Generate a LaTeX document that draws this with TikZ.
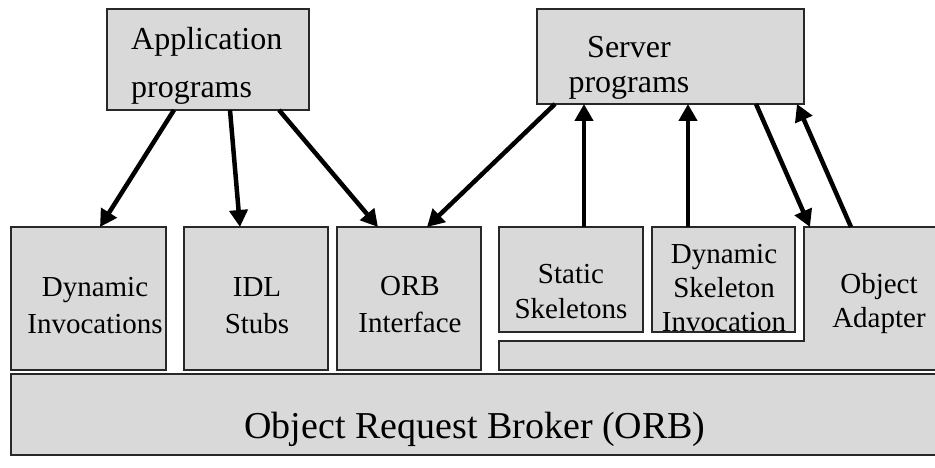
\documentclass[tikz,border=0pt]{standalone}
\usepackage{fontspec}
\setmainfont{Liberation Serif}
\usetikzlibrary{arrows.meta}
\definecolor{boxgray}{RGB}{217,217,217}
\definecolor{edge}{RGB}{40,40,40}
\begin{document}
\begin{tikzpicture}[x=1pt,y=-1pt,
  box/.style={draw=edge, line width=1.4pt, fill=boxgray, inner sep=0pt, outer sep=0pt, anchor=north west},
  lblS/.style={font=\fontsize{29pt}{35pt}\selectfont, align=center, inner sep=0pt, anchor=north},
  lblT/.style={font=\fontsize{32pt}{35pt}\selectfont, inner sep=0pt},
  arr/.style={line width=4.5pt, -{Triangle[length=17pt,width=18pt]}}]
\useasboundingbox (0,0) rectangle (935,468);
% top boxes
\node[box, minimum width=202pt, minimum height=101pt] (app) at (107,9) {};
\node[box, minimum width=267pt, minimum height=95pt] (srv) at (537,9) {};
% bottom boxes
\node[box, minimum width=155pt, minimum height=143pt] (dyn) at (11,227) {};
\node[box, minimum width=144pt, minimum height=143pt] (idl) at (184,227) {};
\node[box, minimum width=144pt, minimum height=143pt] (orbi) at (337,227) {};
\node[box, minimum width=144pt, minimum height=105pt] (stat) at (499,227) {};
\node[box, minimum width=143pt, minimum height=105pt] (dsi) at (652,227) {};
% object adapter (L-shape)
\coordinate (oa) at (804,227);
\coordinate (oab) at (499,341);
\draw[draw=edge, line width=1.4pt, fill=boxgray]
  (oa) -- (940,227) -- (940,370) -- (499,370) -- (oab) -- (804,341) -- cycle;
% ORB box
\node[box, minimum width=929pt, minimum height=81pt] (orb) at (11,374) {};
% texts
\node[lblT, anchor=north west, align=left, font=\fontsize{32pt}{48pt}\selectfont] (appT) at (131,27) {Application\\programs};
\node[lblT, anchor=north, align=center] (srvT) at (629,36.4) {Server\\programs};
\node[lblS, font=\fontsize{29pt}{37pt}\selectfont] (dynT) at (95,277) {Dynamic\\Invocations};
\node[lblS, font=\fontsize{29pt}{37pt}\selectfont] (idlT) at (257,277) {IDL\\Stubs};
\node[lblS, font=\fontsize{29pt}{37pt}\selectfont] (orbiT) at (410,276.4) {ORB\\Interface};
\node[lblS] (statT) at (571,264.4) {Static\\Skeletons};
\node[lblS, font=\fontsize{29pt}{34pt}\selectfont] (dsiT) at (724,244) {Dynamic\\Skeleton\\Invocation};
\node[lblS, font=\fontsize{29pt}{34pt}\selectfont] (oaT) at (879,273) {Object\\Adapter};
\node[inner sep=0pt, anchor=base, font=\fontsize{38pt}{44pt}\selectfont] (orbT) at (475,438) {Object Request Broker (ORB)};
% arrows
\draw[arr] ([xshift=67pt]app.south west) -- ([xshift=89pt]dyn.north west);
\draw[arr] ([xshift=123pt]app.south west) -- ([xshift=56pt]idl.north west);
\draw[arr] ([xshift=172pt]app.south west) -- ([xshift=41pt]orbi.north west);
\draw[arr] ([xshift=18pt]srv.south west) -- ([xshift=90pt]orbi.north west);
\draw[arr] ([xshift=85pt]stat.north west) -- ([xshift=47pt]srv.south west);
\draw[arr] ([xshift=36pt]dsi.north west) -- ([xshift=151pt]srv.south west);
\draw[arr] ([xshift=219pt]srv.south west) -- ([xshift=6pt]oa);
\draw[arr] ([xshift=47pt]oa) -- ([xshift=260pt]srv.south west);
\end{tikzpicture}
\end{document}
